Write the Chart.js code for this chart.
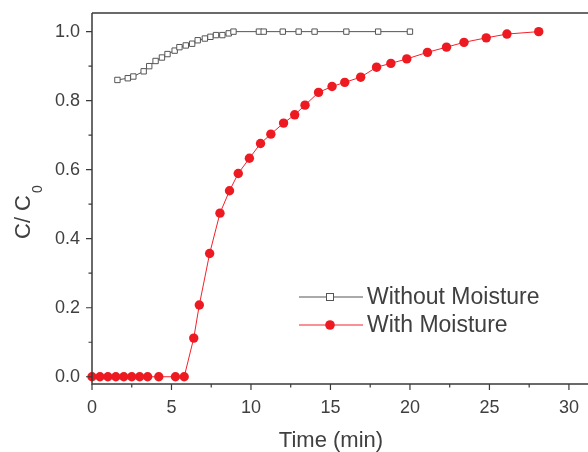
<!DOCTYPE html>
<html><head><meta charset="utf-8">
<script src="https://cdn.jsdelivr.net/npm/chart.js@4/dist/chart.umd.min.js"></script>
<style>html,body{margin:0;padding:0;background:#fff}#wrap{width:588px;height:452px}</style>
</head><body><div id="wrap"><canvas id="c" width="588" height="452"></canvas></div>
<script>
const dryLabel = "Without Moisture";
const dryTime = [1.6,2.25,2.6,3.25,3.6,4.0,4.4,4.75,5.2,5.5,5.9,6.3,6.65,7.1,7.45,7.8,8.2,8.6,8.9,10.5,10.8,12.0,13.0,14.0,16.0,18.0,20.0];
const dryRatio = [0.86,0.865,0.87,0.885,0.9,0.915,0.925,0.935,0.945,0.955,0.96,0.965,0.975,0.98,0.985,0.99,0.99,0.995,1.0,1.0,1.0,1.0,1.0,1.0,1.0,1.0,1.0];
const wetLabel = "With Moisture";
const wetTime = [0,0.5,1,1.5,2,2.5,3,3.5,4.2,5.25,5.8,6.4,6.75,7.4,8.05,8.65,9.2,9.9,10.6,11.25,12.05,12.75,13.4,14.25,15.1,15.9,16.9,17.9,18.8,19.8,21.1,22.3,23.4,24.8,26.1,28.1];
const wetRatio = [0,0,0,0,0,0,0,0,0,0,0,0.112,0.208,0.357,0.474,0.539,0.589,0.633,0.676,0.703,0.735,0.759,0.787,0.824,0.841,0.853,0.868,0.897,0.908,0.921,0.94,0.955,0.969,0.982,0.993,1.0];
const xTitle = "Time (min)";
const yTitleMain = "C/ C";
const yTitleSub = "0";
const xTickLabels = [0,5,10,15,20,25,30];
const yTickLabels = [0,0.2,0.4,0.6,0.8,1.0];

const AX = '#3a3a3a';
const TXT = '#404040';
const FONT = 'Liberation Sans, Arial, Helvetica, sans-serif';

const toXY = (xs, ys) => xs.map((x,i)=>({x:x,y:ys[i]}));
const near = (v, arr) => arr.some(a => Math.abs(a - v) < 1e-6);
const noPad = (s) => { s.paddingLeft = 0; s.paddingRight = 0; s.paddingTop = 0; s.paddingBottom = 0; };

const decor = {
  id:'decor',
  afterDraw(chart){
    const ctx = chart.ctx, a = chart.chartArea;
    const xs = chart.scales.x, ys = chart.scales.y;
    ctx.save();
    ctx.strokeStyle = AX; ctx.lineWidth = 1.5;
    ctx.beginPath();
    ctx.moveTo(a.left, a.top); ctx.lineTo(a.right, a.top);
    ctx.moveTo(a.left, a.top); ctx.lineTo(a.left, a.bottom);
    ctx.lineTo(a.right, a.bottom);
    ctx.stroke();
    ctx.lineWidth = 1.2;
    ctx.beginPath();
    xs.ticks.forEach(t=>{
      const p = xs.getPixelForValue(t.value);
      const len = near(t.value, xTickLabels) ? 6 : 3.5;
      ctx.moveTo(p, a.bottom); ctx.lineTo(p, a.bottom + len);
    });
    ys.ticks.forEach(t=>{
      const p = ys.getPixelForValue(t.value);
      const len = near(t.value, yTickLabels) ? 6 : 3.5;
      ctx.moveTo(a.left, p); ctx.lineTo(a.left - len, p);
    });
    ctx.stroke();
    ctx.fillStyle = TXT;
    ctx.font = '22px ' + FONT;
    ctx.textAlign = 'center'; ctx.textBaseline = 'middle';
    ctx.fillText(xTitle, 331, 441);
    ctx.save();
    ctx.translate(24, 212);
    ctx.rotate(-Math.PI/2);
    ctx.textAlign = 'left';
    ctx.font = '22px ' + FONT;
    const w = ctx.measureText(yTitleMain).width;
    const x0 = -(w + 10)/2;
    ctx.fillText(yTitleMain, x0, 0);
    ctx.font = '14px ' + FONT;
    ctx.fillText(yTitleSub, x0 + w + 2, 14);
    ctx.restore();
    const items = chart.data.datasets;
    const lx0 = 299, lx1 = 363, tx = 367;
    const ly = [297, 325];
    items.forEach((ds, i)=>{
      const y = ly[i];
      ctx.strokeStyle = ds.borderColor; ctx.lineWidth = 1;
      ctx.beginPath(); ctx.moveTo(lx0, y); ctx.lineTo(lx1, y); ctx.stroke();
      const cx = 330;
      if (ds.pointStyle === 'rect') {
        ctx.fillStyle = '#fff'; ctx.strokeStyle = ds.pointBorderColor; ctx.lineWidth = 1;
        ctx.fillRect(cx-3.5, y-3.5, 7, 7); ctx.strokeRect(cx-3.5, y-3.5, 7, 7);
      } else {
        ctx.fillStyle = ds.pointBackgroundColor;
        ctx.beginPath(); ctx.arc(cx, y, 4.8, 0, Math.PI*2); ctx.fill();
      }
      ctx.fillStyle = TXT; ctx.font = '23px ' + FONT;
      ctx.textAlign = 'left'; ctx.textBaseline = 'middle';
      ctx.fillText(ds.label, tx, y + 1);
    });
    ctx.restore();
  }
};

new Chart(document.getElementById('c'), {
  type:'line',
  data:{datasets:[
    {label:dryLabel, data:toXY(dryTime, dryRatio), borderColor:'#555', borderWidth:1,
     pointStyle:'rect', pointRadius:3.8, pointBackgroundColor:'#fff', pointBorderColor:'#555',
     pointBorderWidth:1, tension:0, clip:false},
    {label:wetLabel, data:toXY(wetTime, wetRatio), borderColor:'#f2222a', borderWidth:1,
     pointStyle:'circle', pointRadius:4.7, pointBackgroundColor:'#ee1a22', pointBorderColor:'#ee1a22',
     pointBorderWidth:0, tension:0, clip:false}
  ]},
  options:{
    responsive:false, animation:false, devicePixelRatio:1,
    layout:{autoPadding:false, padding:{top:13,right:0,left:0,bottom:0}},
    plugins:{legend:{display:false}, tooltip:{enabled:false}},
    scales:{
      x:{type:'linear', min:0, max:31.2,
        afterBuildTicks(s){ const t=[]; for(let v=0; v<=30.001; v+=2.5) t.push({value:v}); s.ticks=t; },
        afterFit(s){ s.height = 68; noPad(s); },
        grid:{display:false, drawTicks:false}, border:{display:false},
        ticks:{padding:13, color:TXT, font:{size:18, family:FONT}, maxRotation:0, autoSkip:false,
          callback:(v)=> near(v, xTickLabels) ? String(Math.round(v)) : ''}
      },
      y:{type:'linear', min:-0.021, max:1.054,
        afterBuildTicks(s){ const t=[]; for(let i=0;i<=10;i++) t.push({value:i/10}); s.ticks=t; },
        afterFit(s){ s.width = 92; noPad(s); },
        grid:{display:false, drawTicks:false}, border:{display:false},
        ticks:{padding:12, color:TXT, font:{size:18, family:FONT}, autoSkip:false,
          callback:(v)=> near(v, yTickLabels) ? v.toFixed(1) : ''}
      }
    }
  },
  plugins:[decor]
});
</script></body></html>
